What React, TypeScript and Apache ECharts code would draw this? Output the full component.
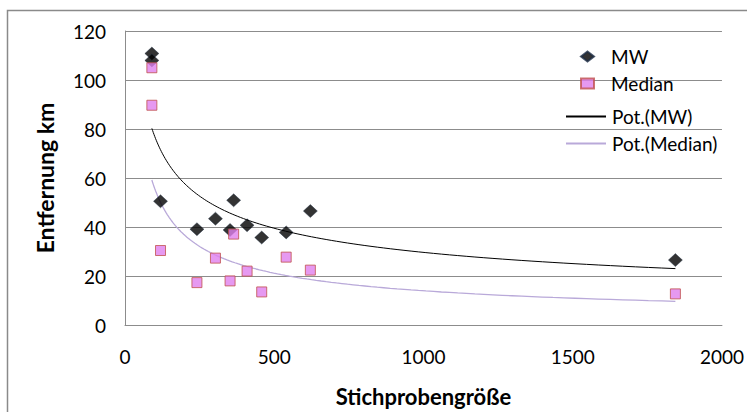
import React, { useEffect, useRef } from "react";
import * as echarts from "echarts";

// Stichprobengröße (x) and the two measures (y, km)
const sampleSize = [90, 90, 119, 241, 303, 352, 364, 409, 458, 540, 621, 1844];
const mwValues = [110.8, 108, 50.5, 39.1, 43.4, 38.8, 50.9, 40.7, 35.7, 37.8, 46.5, 26.5];
const medianValues = [105, 89.7, 30.4, 17.3, 27.3, 18, 37.1, 22, 13.5, 27.7, 22.4, 12.7];

const xTicks = [0, 500, 1000, 1500, 2000];
const yTicks = [0, 20, 40, 60, 80, 100, 120];

const seriesNames = ["MW", "Median", "Pot.(MW)", "Pot.(Median)"];

// Power trendline (least squares on ln x / ln y), as Excel's "Potenz" trendline
function powerFit(xs: number[], ys: number[]) {
  const lx = xs.map(Math.log);
  const ly = ys.map(Math.log);
  const n = xs.length;
  const mx = lx.reduce((a, b) => a + b, 0) / n;
  const my = ly.reduce((a, b) => a + b, 0) / n;
  let sxy = 0;
  let sxx = 0;
  for (let i = 0; i < n; i++) {
    sxy += (lx[i] - mx) * (ly[i] - my);
    sxx += (lx[i] - mx) * (lx[i] - mx);
  }
  const b = sxy / sxx;
  const a = Math.exp(my - b * mx);
  return { a, b };
}

function trendCurve(xs: number[], ys: number[]) {
  const { a, b } = powerFit(xs, ys);
  const x0 = Math.min(...xs);
  const x1 = Math.max(...xs);
  const steps = 120;
  const pts: number[][] = [];
  for (let i = 0; i <= steps; i++) {
    const x = x0 * Math.pow(x1 / x0, i / steps);
    pts.push([x, a * Math.pow(x, b)]);
  }
  return pts;
}

const FONT = "Lato";

export default function App() {
  const ref = useRef<HTMLDivElement>(null);

  useEffect(() => {
    const chart = echarts.init(ref.current!, undefined, { renderer: "svg" });
    const mwPoints = sampleSize.map((x, i) => [x, mwValues[i]]);
    const medianPoints = sampleSize.map((x, i) => [x, medianValues[i]]);
    const legendText = { fontFamily: FONT, fontSize: 19, color: "#000" };

    chart.setOption({
      animation: false,
      backgroundColor: "#ffffff",
      textStyle: { fontFamily: FONT },
      grid: { left: 125, right: 23, top: 31, bottom: 82, containLabel: false },
      graphic: [
        {
          type: "rect",
          shape: { x: 7.5, y: 10.5, width: 780, height: 440 },
          style: { fill: "none", stroke: "#8a8a8a", lineWidth: 1.5 },
          silent: true,
          z: -10,
        },
      ],
      legend: [
        {
          orient: "vertical",
          left: 575,
          top: 42,
          itemWidth: 13,
          itemHeight: 10,
          itemGap: 8,
          textStyle: { ...legendText, padding: [0, 0, 0, 12] },
          data: [
            { name: seriesNames[0], icon: "diamond" },
            { name: seriesNames[1], icon: "rect" },
          ],
        },
        {
          orient: "vertical",
          left: 560,
          top: 102,
          itemWidth: 40,
          itemHeight: 10,
          itemGap: 8,
          itemStyle: { opacity: 0 },
          textStyle: { ...legendText, padding: [0, 0, 0, 1] },
          data: [{ name: seriesNames[2] }, { name: seriesNames[3] }],
        },
      ],
      xAxis: {
        type: "value",
        min: xTicks[0],
        max: xTicks[xTicks.length - 1],
        interval: 500,
        name: "Stichprobengröße",
        nameLocation: "middle",
        nameGap: 60,
        nameTextStyle: { fontFamily: FONT, fontSize: 22, fontWeight: "bold", color: "#000" },
        axisLine: { show: true, lineStyle: { color: "#8c8c8c", width: 1 } },
        axisTick: { show: false },
        splitLine: { show: false },
        axisLabel: {
          fontSize: 19,
          color: "#000",
          margin: 22,
          fontFamily: FONT,
          formatter: (v: number) => String(v),
        },
      },
      yAxis: {
        type: "value",
        min: yTicks[0],
        max: yTicks[yTicks.length - 1],
        interval: 20,
        name: "Entfernung km",
        nameLocation: "middle",
        nameRotate: 90,
        nameGap: 69,
        nameTextStyle: { fontFamily: FONT, fontSize: 23, fontWeight: "bold", color: "#000" },
        axisLine: { show: true, lineStyle: { color: "#8c8c8c", width: 1 } },
        axisTick: { show: false },
        splitLine: { show: true, lineStyle: { color: "#8c8c8c", width: 1 } },
        axisLabel: { fontSize: 19, color: "#000", margin: 19, fontFamily: FONT, padding: [4, 0, 0, 0] },
      },
      series: [
        {
          name: seriesNames[0],
          type: "scatter",
          symbol: "diamond",
          symbolSize: [14, 13],
          itemStyle: { color: "#000000", borderColor: "#1c2c44", borderWidth: 0.5 },
          data: mwPoints,
          z: 3,
        },
        {
          name: seriesNames[1],
          type: "scatter",
          symbol: "rect",
          symbolSize: 10,
          itemStyle: { color: "#e07fee", borderColor: "#c0504d", borderWidth: 1 },
          data: medianPoints,
          z: 4,
        },
        {
          name: seriesNames[2],
          type: "line",
          symbol: "circle",
          symbolSize: 0,
          showSymbol: false,
          lineStyle: { color: "#000000", width: 1 },
          itemStyle: { color: "#000000" },
          data: trendCurve(sampleSize, mwValues),
          z: 2,
        },
        {
          name: seriesNames[3],
          type: "line",
          symbol: "circle",
          symbolSize: 0,
          showSymbol: false,
          lineStyle: { color: "#b9a9d9", width: 1.3 },
          itemStyle: { color: "#b9a9d9" },
          data: trendCurve(sampleSize, medianValues),
          z: 2,
        },
      ],
    });
    return () => chart.dispose();
  }, []);

  return (
    <div
      ref={ref}
      style={{ position: "absolute", left: 0, top: 0, width: 747, height: 412, background: "#fff" }}
    />
  );
}
